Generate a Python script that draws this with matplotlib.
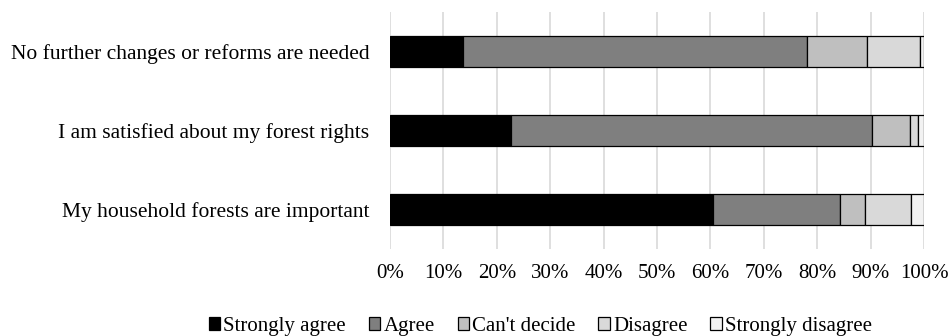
import numpy as np
import matplotlib.pyplot as plt

# survey statements, bottom to top
statements = ['My household forests are important',
              'I am satisfied about my forest rights',
              'No further changes or reforms are needed']
responses = ['Strongly agree', 'Agree', "Can't decide", 'Disagree', 'Strongly disagree']

# share of respondents (%) per response, one list per response, same order as statements
strongly_agree = [60.4, 22.6, 13.7]
agree = [23.8, 67.6, 64.3]
cant_decide = [4.7, 7.2, 11.3]
disagree = [8.7, 1.5, 9.9]
strongly_disagree = [2.4, 1.1, 0.8]

colours = ['#000000', '#7f7f7f', '#bfbfbf', '#d9d9d9', '#f2f2f2']

plt.rcParams['font.family'] = ['Liberation Serif', 'DejaVu Serif']

fig = plt.figure(figsize=(9.48, 3.36), dpi=100)
ax = fig.add_axes([390/948, 87/336, 534/948, 237/336])

y = np.arange(len(statements))
left = np.zeros(len(statements))
for vals, lab, col in zip([strongly_agree, agree, cant_decide, disagree, strongly_disagree],
                          responses, colours):
    ax.barh(y, vals, left=left, height=0.405, color=col, edgecolor='black',
            linewidth=0.9, label=lab, zorder=3)
    left += np.array(vals)

ax.set_xlim(0, 100)
ax.set_ylim(-0.5, 2.5)
ax.set_xticks(np.arange(0, 101, 10))
ax.set_xticklabels(['%d%%' % v for v in range(0, 101, 10)], fontsize=15)
ax.set_yticks(y)
ax.set_yticklabels(statements, fontsize=15.5)
ax.tick_params(axis='x', length=0, pad=11)
ax.tick_params(axis='y', length=0, pad=15)
ax.grid(axis='x', color='#d9d9d9', linewidth=1.2, zorder=0)
for s in ax.spines.values():
    s.set_visible(False)

fig.legend(loc='lower center', bbox_to_anchor=(0.57, -0.055), ncol=5, frameon=False,
           fontsize=15, handlelength=0.55, handleheight=0.55, handletextpad=0.15,
           columnspacing=1.1)

fig.savefig('out.png', dpi=100)
